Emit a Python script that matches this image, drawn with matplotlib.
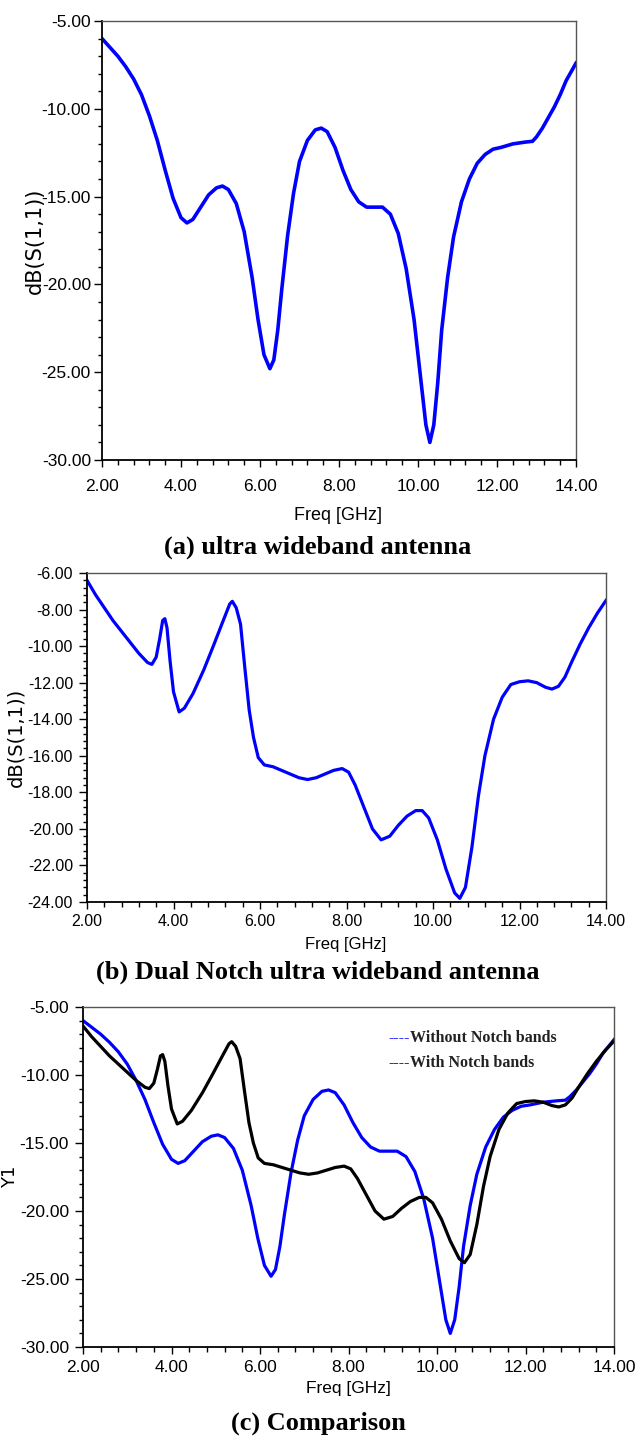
import matplotlib
matplotlib.use('Agg')
import matplotlib.pyplot as plt
from matplotlib.ticker import MultipleLocator, FormatStrFormatter
from matplotlib.transforms import blended_transform_factory

W, H = 637, 1438

freq_uwb = [2.0, 2.2, 2.4, 2.6, 2.8, 3.0, 3.2, 3.4, 3.6, 3.8, 4.0, 4.15, 4.3, 4.5, 4.7,
            4.9, 5.05, 5.2, 5.4, 5.6, 5.8, 5.95, 6.1, 6.25, 6.35, 6.45, 6.55, 6.7, 6.85,
            7.0, 7.2, 7.4, 7.55, 7.7, 7.9, 8.1, 8.3, 8.5, 8.7, 8.9, 9.1, 9.3, 9.5, 9.7,
            9.9, 10.05, 10.2, 10.3, 10.4, 10.5, 10.6, 10.75, 10.9, 11.1, 11.3, 11.5, 11.7,
            11.9, 12.1, 12.4, 12.7, 12.9, 13.0, 13.15, 13.3, 13.45, 13.6, 13.75, 13.9, 14.0]
s11_uwb = [-6.0, -6.5, -7.0, -7.6, -8.3, -9.2, -10.4, -11.8, -13.5, -15.1, -16.2, -16.5,
           -16.3, -15.6, -14.9, -14.5, -14.4, -14.6, -15.4, -17.0, -19.6, -22.0, -24.0,
           -24.8, -24.3, -22.6, -20.3, -17.2, -14.8, -13.0, -11.8, -11.2, -11.1, -11.3,
           -12.2, -13.5, -14.6, -15.3, -15.6, -15.6, -15.6, -16.0, -17.1, -19.1, -22.0,
           -25.0, -28.0, -29.0, -28.0, -25.6, -22.6, -19.6, -17.3, -15.3, -14.0, -13.1,
           -12.6, -12.3, -12.2, -12.0, -11.9, -11.85, -11.6, -11.1, -10.5, -9.9, -9.2,
           -8.4, -7.8, -7.4]

freq_notch = [2.0, 2.2, 2.4, 2.6, 2.8, 3.0, 3.2, 3.4, 3.5, 3.6, 3.68, 3.75, 3.8, 3.85,
              3.92, 4.0, 4.13, 4.25, 4.45, 4.7, 4.92, 5.15, 5.3, 5.36, 5.45, 5.55, 5.65,
              5.75, 5.85, 5.96, 6.1, 6.3, 6.5, 6.7, 6.9, 7.1, 7.3, 7.5, 7.7, 7.9, 8.05,
              8.2, 8.4, 8.6, 8.8, 9.0, 9.2, 9.4, 9.6, 9.75, 9.9, 10.1, 10.3, 10.5, 10.62,
              10.75, 10.9, 11.05, 11.2, 11.4, 11.6, 11.8, 12.0, 12.2, 12.4, 12.6, 12.75,
              12.9, 13.05, 13.2, 13.4, 13.6, 13.8, 14.0]
s11_notch = [-6.4, -7.2, -7.9, -8.6, -9.2, -9.8, -10.4, -10.9, -11.0, -10.6, -9.6, -8.6,
             -8.5, -9.0, -10.8, -12.5, -13.6, -13.4, -12.6, -11.3, -10.0, -8.6, -7.7,
             -7.55, -7.9, -8.8, -11.2, -13.5, -15.0, -16.1, -16.5, -16.6, -16.8, -17.0,
             -17.2, -17.3, -17.2, -17.0, -16.8, -16.7, -16.9, -17.6, -18.8, -20.0, -20.6,
             -20.4, -19.8, -19.3, -19.0, -19.0, -19.4, -20.6, -22.2, -23.5, -23.8, -23.2,
             -21.0, -18.2, -16.0, -14.0, -12.8, -12.1, -11.95, -11.9, -12.0, -12.25,
             -12.35, -12.2, -11.7, -10.9, -9.9, -9.0, -8.2, -7.5]

captions = ['(a) ultra wideband antenna',
            '(b) Dual Notch ultra wideband antenna',
            '(c) Comparison']
legend_labels = ['Without Notch bands', 'With Notch bands']

plt.rcParams['font.family'] = ['Liberation Sans', 'DejaVu Sans']

fig = plt.figure(figsize=(W / 100, H / 100), dpi=100)


def box(l, t, r, b):
    return [l / W, 1 - b / H, (r - l) / W, (b - t) / H]


def fx(x):
    return x / W


def fy(y):
    return 1 - y / H


def style(ax, ylim, ymaj, ymin, fs, xpad, ypad, ylabel, ylabel_fs, ylabel_x):
    ax.set_xlim(2, 14)
    ax.set_ylim(*ylim)
    ax.xaxis.set_major_locator(MultipleLocator(2))
    ax.xaxis.set_minor_locator(MultipleLocator(0.4))
    ax.yaxis.set_major_locator(MultipleLocator(ymaj))
    ax.yaxis.set_minor_locator(MultipleLocator(ymin))
    ax.xaxis.set_major_formatter(FormatStrFormatter('%.2f'))
    ax.yaxis.set_major_formatter(FormatStrFormatter('%.2f'))
    ax.tick_params(which='both', direction='out', top=False, right=False, width=1.0)
    ax.tick_params(axis='x', which='major', length=5, pad=xpad, labelsize=fs)
    ax.tick_params(axis='x', which='minor', length=3.5)
    ax.tick_params(axis='y', which='major', length=6, pad=ypad, labelsize=fs)
    ax.tick_params(axis='y', which='minor', length=3)
    for s in ['left', 'bottom']:
        ax.spines[s].set_linewidth(1.3)
        ax.spines[s].set_color('black')
    for s in ['top', 'right']:
        ax.spines[s].set_linewidth(1.0)
        ax.spines[s].set_color('#555555')
    ax.set_ylabel(ylabel, fontsize=ylabel_fs, family='DejaVu Sans')
    tr = blended_transform_factory(fig.transFigure, ax.transAxes)
    ax.yaxis.set_label_coords(ylabel_x, 0.5, transform=tr)


# panel (a)
ax1 = fig.add_axes(box(102, 21, 576, 460))
ax1.plot(freq_uwb, s11_uwb, color='#0000ff', lw=2.6)
style(ax1, (-30, -5), 5, 1, 12.5, 9, 2, 'dB(S(1,1))', 15, fx(45))
fig.text(fx(338), fy(516), 'Freq [GHz]', ha='center', va='center', fontsize=13)
fig.text(fx(318), fy(547), captions[0], ha='center', va='center', fontsize=19,
         family='Liberation Serif', weight='bold')

# panel (b)
ax2 = fig.add_axes(box(87, 573, 606, 902))
ax2.plot(freq_notch, s11_notch, color='#0000ff', lw=2.3)
style(ax2, (-24, -6), 2, 0.4, 11.5, 4, 4, 'dB(S(1,1))', 14, fx(25))
fig.text(fx(346), fy(944), 'Freq [GHz]', ha='center', va='center', fontsize=12)
fig.text(fx(318), fy(972), captions[1], ha='center', va='center', fontsize=19,
         family='Liberation Serif', weight='bold')

# panel (c)
ax3 = fig.add_axes(box(83, 1007, 614, 1347))
ax3.plot(freq_uwb, s11_uwb, color='#0000ff', lw=2.3)
ax3.plot(freq_notch, s11_notch, color='black', lw=2.3)
style(ax3, (-30, -5), 5, 1, 12.5, 4, 4, 'Y1', 13, fx(19))
fig.text(fx(348), fy(1389), 'Freq [GHz]', ha='center', va='center', fontsize=12.5)
fig.text(fx(318), fy(1423), captions[2], ha='center', va='center', fontsize=19,
         family='Liberation Serif', weight='bold')

# hand-made legend: coloured dashes followed by the label
for i, (lab, col) in enumerate(zip(legend_labels, ['#0000ff', 'black'])):
    y = 1038 + i * 25
    fig.text(fx(410), fy(y), '----', ha='right', va='center', fontsize=11.5,
             family='Liberation Serif', color=col)
    fig.text(fx(410), fy(y), lab, ha='left', va='center', fontsize=11.5,
             family='Liberation Serif', weight='bold', color='#222222')

fig.savefig('out.png', dpi=100)
